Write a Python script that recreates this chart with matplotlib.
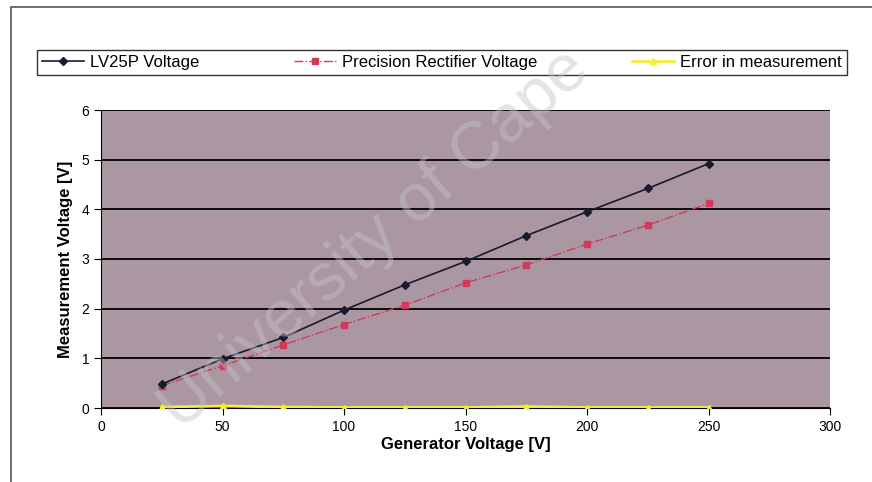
import matplotlib.pyplot as plt
from matplotlib.patches import Rectangle

plt.rcParams['font.family'] = ['Liberation Sans', 'DejaVu Sans']

gen_v = [25, 50, 75, 100, 125, 150, 175, 200, 225, 250]
lv25p_v = [0.48, 0.99, 1.42, 1.97, 2.48, 2.95, 3.47, 3.95, 4.42, 4.92]
rect_v = [0.45, 0.85, 1.27, 1.68, 2.07, 2.52, 2.88, 3.30, 3.68, 4.12]
err_v = [0.02, 0.04, 0.02, 0.01, 0.01, 0.01, 0.03, 0.01, 0.01, 0.01]

fig = plt.figure(figsize=(8.72, 4.82), dpi=100)
fig.patches.append(Rectangle((11 / 872, -0.1), 1.2, 1 - 7 / 482 + 0.1,
                             transform=fig.transFigure, fill=False,
                             edgecolor='#555555', linewidth=1.2))

ax = fig.add_axes([101 / 872, 1 - 408 / 482, 729 / 872, 298 / 482])
ax.set_facecolor('#ab97a2')

ax.plot(gen_v, lv25p_v, color='#1a1a2e', lw=1.2, marker='D', ms=4,
        label='LV25P Voltage', zorder=4)
ax.plot(gen_v, rect_v, color='#d23a5c', lw=1.0, ls='-.', marker='s', ms=4,
        label='Precision Rectifier Voltage', zorder=3)
ax.plot(gen_v, err_v, color='#f2ee3a', lw=2.0, marker='^', ms=5,
        label='Error in measurement', zorder=3)

ax.set_xlim(0, 300)
ax.set_ylim(0, 6)
ax.set_xticks(range(0, 301, 50))
ax.set_yticks(range(0, 7))
ax.yaxis.grid(True, color='black', lw=1.3)
ax.set_axisbelow(True)
for s in ['top', 'right']:
    ax.spines[s].set_visible(False)
ax.spines['left'].set_color('black')
ax.spines['bottom'].set_color('black')
ax.tick_params(direction='out', length=5, labelsize=10, colors='black')

ax.set_xlabel('Generator Voltage [V]', fontsize=12, fontweight='bold', labelpad=2)
ax.set_ylabel('Measurement Voltage [V]', fontsize=12, fontweight='bold', labelpad=6)

leg = fig.legend(loc='upper left',
                 bbox_to_anchor=(37 / 872, 1 - 84 / 482, 810 / 872, 34 / 482),
                 mode='expand', ncol=3, frameon=True, fancybox=False,
                 edgecolor='black', fontsize=12, handlelength=2.5,
                 handletextpad=0.4, borderaxespad=0, borderpad=0.3)
leg.get_frame().set_linewidth(1.0)

# faint diagonal watermark
fig.text(375 / 872, 1 - 240 / 482, 'University of Cape', fontsize=48,
         color='#c4c4c4', alpha=0.45, rotation=41, ha='center', va='center',
         rotation_mode='anchor', zorder=10)

fig.savefig('out.png', dpi=100, facecolor='white')
